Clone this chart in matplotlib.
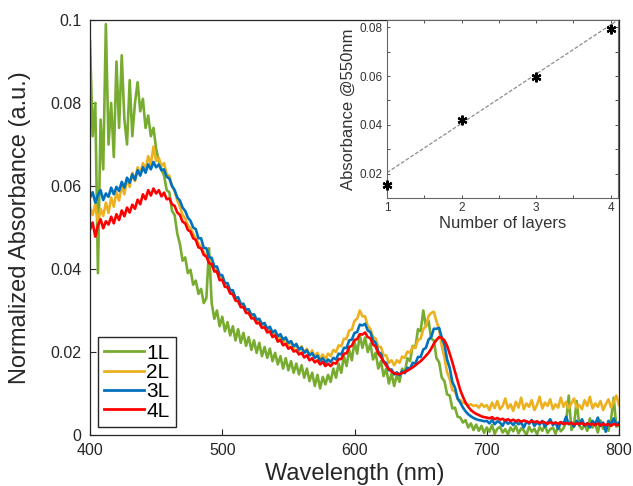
import numpy as np
import matplotlib
matplotlib.use("Agg")
import matplotlib.pyplot as plt

plt.rcParams['font.family'] = ['Liberation Sans', 'DejaVu Sans']

# ---------------- data ----------------
wavelength = np.arange(400, 801, 2)  # nm

# absorbance values in units of 1e-4 a.u., one per wavelength (400..800 step 2)
abs_1L_e4 = [
    950, 720, 800, 390, 760, 640, 990, 700, 800, 670,
    900, 740, 915, 760, 700, 855, 720, 800, 850, 780,
    810, 740, 770, 720, 740, 690, 660, 640, 625, 590,
    585, 540, 530, 485, 460, 420, 428, 390, 398, 362,
    372, 340, 352, 318, 330, 450, 318, 280, 300, 262,
    285, 250, 272, 240, 262, 228, 255, 222, 246, 215,
    236, 205, 228, 198, 222, 190, 212, 186, 208, 178,
    198, 170, 190, 160, 185, 156, 178, 150, 172, 146,
    168, 138, 160, 130, 150, 118, 145, 112, 140, 122,
    145, 128, 160, 138, 172, 150, 190, 166, 205, 180,
    225, 196, 240, 210, 235, 200, 220, 182, 198, 160,
    178, 142, 160, 124, 148, 118, 145, 128, 160, 150,
    185, 178, 215, 210, 255, 250, 300, 262, 275, 232,
    228, 185, 175, 138, 130, 98, 95, 64, 66, 44,
    42, 30, 36, 18, 28, 12, 25, 10, 22, 5,
    18, 8, 24, 3, 15, 20, 6, 14, 2, 18,
    9, 22, 4, 16, 11, 0, 20, 8, 15, 2,
    19, 10, 24, 5, 14, 18, 3, 21, 9, 16,
    30, 95, 12, 25, 82, 22, 14, 26, 10, 40,
    18, 28, 6, 35, 15, 22, 10, 38, 90, 20,
    24,
]

abs_2L_e4 = [
    548, 530, 556, 512, 545, 528, 560, 535, 572, 550,
    585, 565, 600, 580, 618, 598, 632, 612, 645, 628,
    655, 640, 672, 652, 695, 660, 668, 648, 655, 628,
    625, 600, 588, 565, 550, 530, 522, 505, 498, 484,
    474, 462, 452, 440, 432, 420, 411, 402, 392, 384,
    378, 360, 360, 343, 346, 328, 328, 312, 316, 296,
    302, 284, 290, 272, 278, 262, 268, 250, 258, 240,
    250, 230, 240, 222, 234, 216, 226, 208, 220, 202,
    214, 198, 208, 192, 204, 188, 198, 184, 194, 182,
    196, 190, 205, 200, 216, 214, 232, 232, 252, 254,
    275, 280, 300, 286, 286, 262, 256, 236, 232, 212,
    212, 192, 192, 174, 180, 168, 180, 174, 189, 186,
    201, 198, 213, 210, 229, 232, 255, 262, 287, 294,
    297, 274, 255, 214, 187, 151, 135, 108, 105, 86,
    84, 78, 76, 72, 74, 70, 72, 66, 75, 68,
    72, 60, 78, 65, 82, 62, 70, 88, 64, 74,
    58, 80, 66, 90, 62, 76, 68, 84, 60, 72,
    92, 64, 78, 70, 86, 62, 74, 66, 90, 68,
    80, 64, 76, 88, 66, 72, 62, 84, 70, 92,
    64, 76, 68, 82, 60, 74, 86, 66, 80, 95,
    72,
]

abs_3L_e4 = [
    572, 585, 560, 578, 590, 566, 582, 574, 596, 580,
    598, 588, 610, 596, 620, 608, 628, 615, 638, 625,
    645, 632, 652, 640, 658, 645, 652, 638, 640, 622,
    618, 600, 590, 572, 565, 548, 540, 524, 516, 500,
    496, 474, 474, 451, 450, 428, 427, 406, 406, 386,
    385, 366, 366, 348, 349, 330, 332, 316, 316, 302,
    303, 289, 291, 278, 280, 267, 270, 256, 261, 247,
    252, 238, 243, 230, 235, 222, 226, 214, 219, 206,
    211, 198, 204, 192, 197, 186, 191, 179, 185, 174,
    182, 176, 186, 182, 196, 194, 210, 210, 228, 230,
    246, 248, 266, 264, 268, 252, 248, 228, 222, 200,
    196, 176, 174, 156, 158, 146, 151, 144, 154, 149,
    162, 160, 174, 172, 188, 188, 206, 210, 230, 236,
    256, 256, 258, 234, 218, 182, 162, 128, 114, 88,
    78, 66, 57, 50, 45, 41, 38, 36, 35, 33,
    34, 28, 36, 26, 33, 30, 22, 35, 27, 31,
    24, 33, 26, 30, 18, 32, 27, 36, 22, 30,
    25, 34, 20, 29, 38, 24, 30, 15, 31, 27,
    44, 26, 30, 20, 34, 24, 38, 22, 28, 18,
    34, 26, 42, 22, 30, 8, 34, 24, 40, 26,
    30,
]

abs_4L_e4 = [
    495, 512, 478, 505, 520, 498, 515, 507, 526, 510,
    532, 518, 541, 527, 548, 536, 555, 545, 567, 556,
    580, 568, 590, 577, 594, 582, 590, 575, 584, 568,
    570, 556, 552, 536, 530, 514, 510, 494, 490, 474,
    470, 452, 450, 434, 430, 414, 412, 394, 394, 373,
    374, 357, 356, 341, 339, 324, 322, 308, 308, 294,
    294, 281, 281, 269, 270, 258, 260, 247, 250, 236,
    240, 225, 229, 216, 220, 208, 212, 201, 204, 194,
    198, 187, 192, 180, 185, 175, 180, 170, 176, 166,
    172, 166, 174, 172, 183, 183, 196, 197, 212, 215,
    229, 231, 243, 242, 247, 236, 233, 218, 213, 196,
    188, 177, 167, 159, 153, 149, 147, 147, 149, 152,
    155, 159, 163, 168, 173, 178, 184, 191, 198, 208,
    220, 229, 236, 234, 228, 215, 196, 175, 152, 130,
    108, 92, 78, 68, 60, 55, 51, 48, 45, 43,
    42, 40, 43, 38, 41, 37, 39, 35, 38, 34,
    37, 33, 36, 32, 35, 33, 30, 34, 31, 33,
    29, 32, 30, 27, 31, 28, 30, 27, 31, 26,
    29, 27, 30, 25, 28, 26, 29, 24, 28, 25,
    27, 24, 28, 23, 27, 24, 26, 22, 27, 24,
    25,
]

series_labels = ['1L', '2L', '3L', '4L']
series_colors = ['#77AC30', '#EDB120', '#0072BD', '#FF0000']

main_xticks = [400, 500, 600, 700, 800]
main_yticks = [0, 0.02, 0.04, 0.06, 0.08, 0.1]
main_yticklabels = ['0', '0.02', '0.04', '0.06', '0.08', '0.1']

# inset: absorbance at 550 nm vs number of layers
layers = [1, 2, 3, 4]
abs_550 = [0.0155, 0.042, 0.0595, 0.0795]
fit_x = [1.0, 4.1]
fit_y = [0.0204, 0.0830]
inset_xticks = [1, 1.5, 2, 2.5, 3, 3.5, 4]
inset_xticklabels = ['1', '', '2', '', '3', '', '4']
inset_yticks = [0.01, 0.02, 0.03, 0.04, 0.05, 0.06, 0.07, 0.08]
inset_yticklabels = ['', '0.02', '', '0.04', '', '0.06', '', '0.08']

# ---------------- figure ----------------
W, H = 633, 486
fig = plt.figure(figsize=(W / 100, H / 100), dpi=100)

L, R, T, B = 90, 619, 20, 435
ax = fig.add_axes([L / W, (H - B) / H, (R - L) / W, (B - T) / H])

spectra = [abs_1L_e4, abs_2L_e4, abs_3L_e4, abs_4L_e4]
for vals, lab, col in zip(spectra, series_labels, series_colors):
    assert len(vals) == len(wavelength)
    ax.plot(wavelength, np.array(vals) * 1e-4, color=col, lw=1.9, label=lab)

ax.set_xlim(400, 800)
ax.set_ylim(0, 0.1)
ax.set_xticks(main_xticks)
ax.set_yticks(main_yticks)
ax.set_yticklabels(main_yticklabels)
ax.tick_params(direction='in', length=4, width=0.8, labelsize=11.5, pad=6,
               colors='#262626', top=False, right=False)
for s in ax.spines.values():
    s.set_color('#262626')
    s.set_linewidth(0.9)
ax.set_xlabel('Wavelength (nm)', fontsize=17, labelpad=3, color='#262626')
ax.set_ylabel('Normalized Absorbance (a.u.)', fontsize=17, labelpad=14, color='#262626')

leg = ax.legend(loc='lower left', bbox_to_anchor=(8 / (R - L), 8 / (B - T)),
                borderaxespad=0, fontsize=15, handlelength=1.9, handletextpad=0.12,
                labelspacing=0.02, borderpad=0.3, fancybox=False, framealpha=1)
leg.get_frame().set_edgecolor('#262626')
leg.get_frame().set_linewidth(1.0)
for h in leg.get_lines():
    h.set_linewidth(2.0)

# ---------------- inset ----------------
iL, iR, iT, iB = 387, 618, 20, 198
ins = fig.add_axes([iL / W, (H - iB) / H, (iR - iL) / W, (iB - iT) / H])
ins.set_facecolor('white')
ins.plot(fit_x, fit_y, ls='--', color='#8c8c8c', lw=0.9, dashes=(3, 1.5))
ins.plot(layers, abs_550, ls='none', marker=(6, 2, 0), ms=7, mew=1.6,
         color='black', clip_on=False, zorder=5)
ins.set_xlim(1, 4.1)
ins.set_ylim(0.01, 0.083)
ins.set_xticks(inset_xticks)
ins.set_xticklabels(inset_xticklabels)
ins.set_yticks(inset_yticks)
ins.set_yticklabels(inset_yticklabels)
ins.tick_params(direction='in', length=2.5, width=0.6, labelsize=8.5, pad=3,
                colors='#333333', top=True, right=True)
for s in ins.spines.values():
    s.set_color('#666666')
    s.set_linewidth(0.8)
ins.set_xlabel('Number of layers', fontsize=12, labelpad=1, color='#333333')
ins.set_ylabel('Absorbance @550nm', fontsize=12, labelpad=3, color='#333333')

fig.savefig('out.png', dpi=100)
